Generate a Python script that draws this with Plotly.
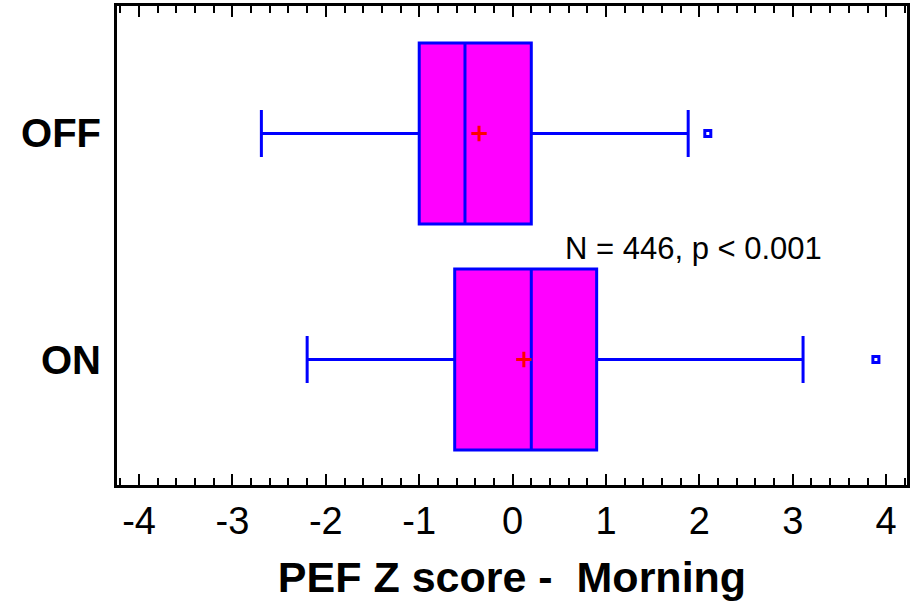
import plotly.graph_objects as go

groups = ["OFF", "ON"]
ypos = [1, 0]
lowerfence = [-2.69, -2.20]
q1 = [-1.00, -0.62]
median = [-0.51, 0.20]
q3 = [0.20, 0.90]
upperfence = [1.88, 3.11]
means = [-0.36, 0.12]
outliers = [2.09, 3.89]

FONT = "Arial, 'Liberation Sans', sans-serif"

fig = go.Figure()
for i, g in enumerate(groups):
    fig.add_trace(go.Box(
        y=[ypos[i]], q1=[q1[i]], median=[median[i]], q3=[q3[i]],
        lowerfence=[lowerfence[i]], upperfence=[upperfence[i]],
        orientation="h", boxpoints=False, width=0.80, whiskerwidth=0.26,
        line=dict(color="#0000FF", width=3), fillcolor="#FF00FF",
        showlegend=False, hoverinfo="skip",
    ))

fig.add_trace(go.Scatter(
    x=means, y=ypos, mode="markers",
    marker=dict(symbol="cross-thin", size=11, line=dict(color="#FF0000", width=3)),
    showlegend=False, hoverinfo="skip",
))
fig.add_trace(go.Scatter(
    x=outliers, y=ypos, mode="markers",
    marker=dict(symbol="square-open", size=6, color="#0000FF", line=dict(color="#0000FF", width=3)),
    showlegend=False, hoverinfo="skip",
))

fig.add_annotation(x=1.937, y=0.49, text="N = 446, p < 0.001", showarrow=False,
                   font=dict(family=FONT, size=31, color="black"),
                   xanchor="center", yanchor="middle")

fig.update_layout(
    width=914, height=603,
    margin=dict(l=117, r=7, t=6, b=118, autoexpand=False),
    plot_bgcolor="white", paper_bgcolor="white",
    font=dict(family=FONT, color="black"),
    xaxis=dict(
        range=[-4.236, 4.223], tickmode="array",
        tickvals=[-4, -3, -2, -1, 0, 1, 2, 3, 4],
        ticktext=["-4", "-3", "-2", "-1", "0", "1", "2", "3", "4"],
        ticks="inside", ticklen=11, tickwidth=2, tickcolor="black",
        minor=dict(ticks="inside", ticklen=7, tickwidth=2, tickcolor="black", dtick=0.2, tick0=0, showgrid=False),
        showline=True, linewidth=3, linecolor="black", mirror="ticks",
        showgrid=False, zeroline=False,
        tickfont=dict(family=FONT, size=38, color="black"),
        title=dict(text="<b>PEF Z score -\u00a0\u00a0Morning</b>",
                   font=dict(family=FONT, size=43, color="black"), standoff=22),
    ),
    yaxis=dict(
        range=[-0.555, 1.564], tickmode="array", tickvals=ypos,
        ticktext=["<b>OFF</b>", "<b>ON</b>"],
        ticks="", ticklabelstandoff=5,
        showline=True, linewidth=3, linecolor="black", mirror=True,
        showgrid=False, zeroline=False,
        tickfont=dict(family=FONT, size=40, color="black"),
    ),
)

fig.write_html(
    "out.html",
    config={"responsive": False, "displayModeBar": False},
    post_script="document.body.style.margin='0';document.body.style.padding='0';document.documentElement.style.overflow='hidden';",
)
